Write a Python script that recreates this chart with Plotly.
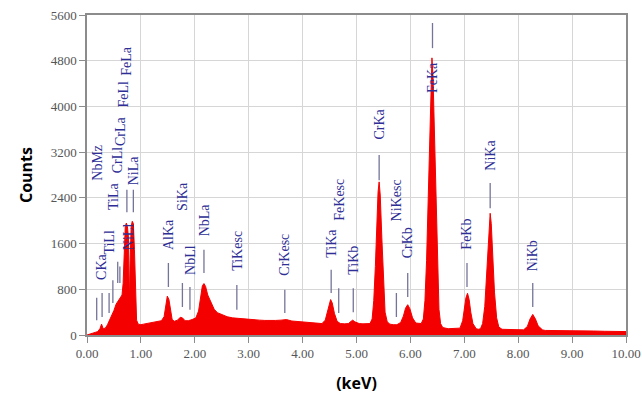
import plotly.graph_objects as go

# ---- spectrum (energy in keV, counts) ----
energy = [0.00, 0.05, 0.10, 0.15, 0.20, 0.24, 0.27, 0.30, 0.34, 0.38, 0.42, 0.46, 0.50, 0.54,
          0.58, 0.62, 0.65, 0.67, 0.69, 0.71, 0.73, 0.75, 0.77, 0.785, 0.80, 0.82, 0.84, 0.86,
          0.88, 0.90, 0.92, 0.95, 1.00, 1.05, 1.10, 1.20, 1.30, 1.38, 1.43, 1.46, 1.49, 1.52,
          1.55, 1.58, 1.62, 1.68, 1.73, 1.77, 1.82, 1.88, 1.95, 2.02, 2.07, 2.11, 2.14, 2.17,
          2.20, 2.24, 2.30, 2.36, 2.42, 2.50, 2.60, 2.70, 2.80, 2.90, 3.00, 3.10, 3.20, 3.30,
          3.40, 3.50, 3.60, 3.70, 3.80, 3.90, 4.00, 4.10, 4.20, 4.30, 4.36, 4.42, 4.46, 4.50,
          4.52, 4.55, 4.59, 4.64, 4.70, 4.78, 4.85, 4.90, 4.93, 4.97, 5.05, 5.12, 5.20, 5.25,
          5.29, 5.32, 5.35, 5.38, 5.40, 5.42, 5.44, 5.47, 5.50, 5.53, 5.57, 5.62, 5.68, 5.75,
          5.82, 5.87, 5.91, 5.95, 5.99, 6.04, 6.10, 6.16, 6.20, 6.24, 6.27, 6.30, 6.33, 6.36,
          6.38, 6.40, 6.42, 6.44, 6.47, 6.50, 6.53, 6.56, 6.60, 6.70, 6.80, 6.88, 6.92, 6.97,
          7.00, 7.03, 7.06, 7.09, 7.12, 7.16, 7.22, 7.26, 7.30, 7.34, 7.38, 7.41, 7.44, 7.46,
          7.48, 7.50, 7.53, 7.56, 7.60, 7.64, 7.70, 7.80, 7.90, 8.00, 8.10, 8.17, 8.22, 8.27,
          8.32, 8.37, 8.45, 8.50, 8.60, 8.80, 9.00, 9.20, 9.40, 9.60, 9.80, 10.00]
counts = [0, 20, 30, 45, 60, 110, 190, 110, 120, 180, 260, 350, 430, 540,
          600, 650, 700, 900, 1500, 1900, 1960, 1900, 1700, 500, 1300, 1900, 1990, 1950,
          1500, 600, 260, 190, 180, 190, 200, 210, 230, 250, 320, 500, 680, 620,
          400, 270, 240, 260, 310, 300, 250, 250, 270, 300, 420, 700, 860, 900,
          850, 700, 560, 450, 390, 360, 320, 300, 290, 285, 270, 265, 260, 255,
          250, 255, 260, 270, 245, 235, 225, 220, 210, 205, 200, 260, 420, 590,
          620, 560, 380, 240, 200, 195, 200, 240, 260, 230, 200, 195, 190, 200,
          280, 600, 1200, 2000, 2500, 2680, 2450, 1700, 900, 400, 230, 190, 180, 180,
          220, 330, 470, 530, 460, 300, 210, 200, 200, 280, 600, 1300, 2400, 3700,
          4450, 4850, 4500, 3700, 2300, 1100, 450, 200, 130, 110, 110, 115, 120, 250,
          450, 650, 730, 620, 400, 200, 110, 100, 110, 200, 500, 1000, 1600, 2000,
          2130, 1950, 1400, 750, 300, 140, 100, 95, 95, 90, 90, 150, 280, 360,
          280, 160, 90, 80, 80, 75, 75, 70, 70, 65, 65, 60]

# ---- peak markers: label, energy, line bottom, line top, label base (counts) ----
marker_names = ["NbMz", "CKa", "TiLl", "TiLa", "CrLl", "CrLa", "FeLl", "FeLa", "NiLl", "NiLa",
                "AlKa", "SiKa", "NbLl", "NbLa", "TiKesc", "CrKesc", "TiKa", "FeKesc", "TiKb",
                "CrKa", "NiKesc", "CrKb", "FeKa", "FeKb", "NiKa", "NiKb"]
marker_energy = [0.18, 0.28, 0.41, 0.48, 0.57, 0.61, 0.67, 0.74, 0.77, 0.86,
                 1.51, 1.77, 1.91, 2.17, 2.78, 3.67, 4.53, 4.67, 4.94,
                 5.42, 5.74, 5.95, 6.41, 7.05, 7.48, 8.27]
line_low = [260, 315, 385, 560, 910, 910, None, 2150, None, 2150,
            840, 490, 440, 1085, 440, 385, 735, 385, 400,
            2710, 315, 665, 5020, 840, 2220, 490]
line_high = [650, 735, 735, 960, 1280, 1200, None, 2540, None, 2540,
             1260, 910, 840, 1490, 875, 790, 1140, 820, 820,
             3150, 735, 1085, 5460, 1260, 2660, 910]
label_base = [2660, 930, 1365, 2150, 2800, 3270, 3940, 4500, 1450, 2590,
              1450, 2135, 1015, 1700, 1085, 1000, 1310, 1960, 1015,
              3380, 1960, 1310, 4200, 1450, 2835, 1085]

x_ticks = [0, 1, 2, 3, 4, 5, 6, 7, 8, 9, 10]
y_ticks = [0, 800, 1600, 2400, 3200, 4000, 4800, 5600]

fig = go.Figure()
fig.add_trace(go.Scatter(x=energy, y=counts, mode="lines", fill="tozeroy",
                         line=dict(color="rgb(245,0,0)", width=1),
                         fillcolor="rgb(245,0,0)", showlegend=False, hoverinfo="skip"))

label_color = "#2e2e96"
for name, e, lo, hi, base in zip(marker_names, marker_energy, line_low, line_high, label_base):
    if lo is not None:
        fig.add_shape(type="line", xref="x", yref="y", x0=e, x1=e, y0=lo, y1=hi,
                      line=dict(color="#74749a", width=1.3))
    fig.add_annotation(x=e, y=base, xref="x", yref="y", text=name, textangle=-90,
                       showarrow=False, xanchor="center", yanchor="bottom",
                       font=dict(family="Liberation Serif", size=14, color=label_color))

fig.update_layout(
    width=642, height=400,
    margin=dict(l=87, r=16, t=15, b=65),
    paper_bgcolor="white", plot_bgcolor="white",
    xaxis=dict(range=[0, 10], tickvals=x_ticks, ticktext=[f"{v:.2f}" for v in x_ticks],
               automargin=False,
               showgrid=True, gridcolor="#d6d6d6", gridwidth=1,
               showline=True, linecolor="#8c8c8c", linewidth=1.5, mirror=True,
               ticks="outside", ticklen=6, tickcolor="#8c8c8c",
               tickfont=dict(family="Liberation Serif", size=13, color="#555555"),
               title=dict(text="<b>(keV)</b>", standoff=17,
                          font=dict(family="Open Sans", size=16, color="black")),
               zeroline=False),
    yaxis=dict(range=[0, 5600], tickvals=y_ticks, automargin=False,
               showgrid=True, gridcolor="#d6d6d6", gridwidth=1,
               showline=True, linecolor="#8c8c8c", linewidth=1.5, mirror=True,
               ticks="outside", ticklen=6, tickcolor="#8c8c8c",
               tickfont=dict(family="Liberation Serif", size=13, color="#555555"),
               title=dict(text="<b>Counts</b>", standoff=14,
                          font=dict(family="Open Sans", size=16, color="black")),
               zeroline=False),
)

fig.write_html("out.html")
